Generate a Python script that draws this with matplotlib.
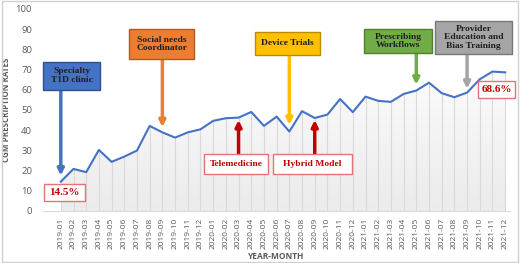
import numpy as np
import matplotlib
matplotlib.use("Agg")
import matplotlib.pyplot as plt
from matplotlib.patches import Rectangle, Polygon

months = [f"{y}-{m:02d}" for y in (2019, 2020, 2021) for m in range(1, 13)]
rates = [14.5, 20.8, 19.2, 30.2, 24.3, 26.9, 29.9, 42.1, 38.9, 36.3, 38.9, 40.4,
         44.6, 45.9, 46.2, 49.0, 42.1, 46.7, 39.3, 49.4, 46.0, 47.7, 55.4, 48.9,
         56.6, 54.5, 54.0, 57.9, 59.6, 63.5, 58.3, 56.3, 58.6, 65.2, 69.0, 68.6]

# label, month index, arrow tip, box (x0, x1, y0, y1), fill, edge
callouts_down = [
    ("Specialty\nT1D clinic", 0, 17.5, (-1.39, 3.09, 59.9, 73.8), "#4472C4", "#2F528F"),
    ("Social needs\nCoordinator", 8, 41.5, (5.38, 10.5, 75.2, 90.1), "#ED7D31", "#AE5A21"),
    ("Device Trials", 18, 42.6, (15.3, 20.4, 77.2, 88.6), "#FFC000", "#BC8C00"),
    ("Prescribing\nWorkflows", 28, 62.5, (23.9, 29.2, 78.2, 90.1), "#70AD47", "#507E32"),
    ("Provider\nEducation and\nBias Training", 32, 60.5, (29.5, 35.5, 77.7, 94.1), "#A5A5A5", "#787878"),
]
callouts_up = [
    ("Telemedicine", 14, 45.0, (11.3, 16.3, 18.3, 28.2)),
    ("Hybrid Model", 20, 45.0, (16.7, 22.9, 18.3, 28.2)),
]
value_labels = [
    ("14.5%", (-1.31, 1.91, 5.0, 13.4)),
    ("68.6%", (32.85, 35.8, 55.9, 64.4)),
]

gray = "#595959"
red = "#C00000"
serif = "Liberation Serif"
plt.rcParams["font.family"] = ["Open Sans", "DejaVu Sans"]

fig = plt.figure(figsize=(5.2, 2.63), dpi=100)
fig.patches.append(Rectangle((0.003, 0.005), 0.994, 0.99, transform=fig.transFigure,
                             fill=False, edgecolor="#d0d0d0", lw=1.0))
ax = fig.add_axes([0.083, 0.198, 0.898, 0.768])

x = np.arange(len(months))
y = np.array(rates)

# gradient area under the line
verts = [(x[0], 0)] + list(zip(x, y)) + [(x[-1], 0)]
poly = Polygon(verts, closed=True, facecolor="none", edgecolor="none")
ax.add_patch(poly)
grad = np.linspace(0, 1, 256).reshape(-1, 1)
cmap = matplotlib.colors.LinearSegmentedColormap.from_list("g", ["#ebebeb", "#fcfcfc"])
im = ax.imshow(grad, extent=(x[0], x[-1], 0, 72), origin="lower", aspect="auto",
               cmap=cmap, zorder=0)
im.set_clip_path(poly)
ax.vlines(x, 0, y, color="#d9d9d9", lw=0.8, zorder=1)

ax.plot(x, y, color="#4472C4", lw=1.5, zorder=3)

ax.set_xlim(-1.39, 35.39)
ax.set_ylim(0, 100)
ax.set_xticks(x)
ax.set_xticklabels(months, rotation=90, fontsize=6, color=gray)
ax.set_yticks(range(0, 101, 10))
ax.tick_params(axis="y", labelsize=6.8, labelcolor=gray, length=0, pad=8)
ax.tick_params(axis="x", length=0, pad=5)
for s in ("top", "right", "left"):
    ax.spines[s].set_visible(False)
ax.spines["bottom"].set_color("#d9d9d9")
ax.set_xlabel("YEAR-MONTH", fontsize=6, fontweight="bold", color=gray, labelpad=2)
ax.set_ylabel("CGM PRESCRIPTION RATES", fontsize=5.8, fontweight="bold", color=gray, labelpad=3)


def box(b, fc, ec, lw=1.0):
    x0, x1, y0, y1 = b
    ax.add_patch(Rectangle((x0, y0), x1 - x0, y1 - y0, facecolor=fc, edgecolor=ec,
                           lw=lw, zorder=5, clip_on=False))
    return (x0 + x1) / 2, (y0 + y1) / 2


for label, i, tip, b, fc, ec in callouts_down:
    ax.annotate("", xy=(i, tip), xytext=(i, b[2]),
                arrowprops=dict(arrowstyle="-|>", color=fc, lw=2.5, mutation_scale=9,
                                shrinkA=0, shrinkB=0), zorder=4)
    cx, cy = box(b, fc, ec)
    ax.text(cx, cy, label, ha="center", va="center", fontsize=6.8, fontweight="bold",
            family=serif, color="#1f1f1f", zorder=6, linespacing=1.15)

for label, i, tip, b in callouts_up:
    ax.annotate("", xy=(i, tip), xytext=(i, b[3]),
                arrowprops=dict(arrowstyle="-|>", color=red, lw=2.5, mutation_scale=9,
                                shrinkA=0, shrinkB=0), zorder=4)
    cx, cy = box(b, "white", "#E57373")
    ax.text(cx, cy, label, ha="center", va="center", fontsize=6.8, fontweight="bold",
            family=serif, color=red, zorder=6)

for label, b in value_labels:
    cx, cy = box(b, "white", "#E57373")
    ax.text(cx, cy, label, ha="center", va="center", fontsize=8, fontweight="bold",
            family=serif, color=red, zorder=6, clip_on=False)

fig.savefig("out.png", dpi=100)
